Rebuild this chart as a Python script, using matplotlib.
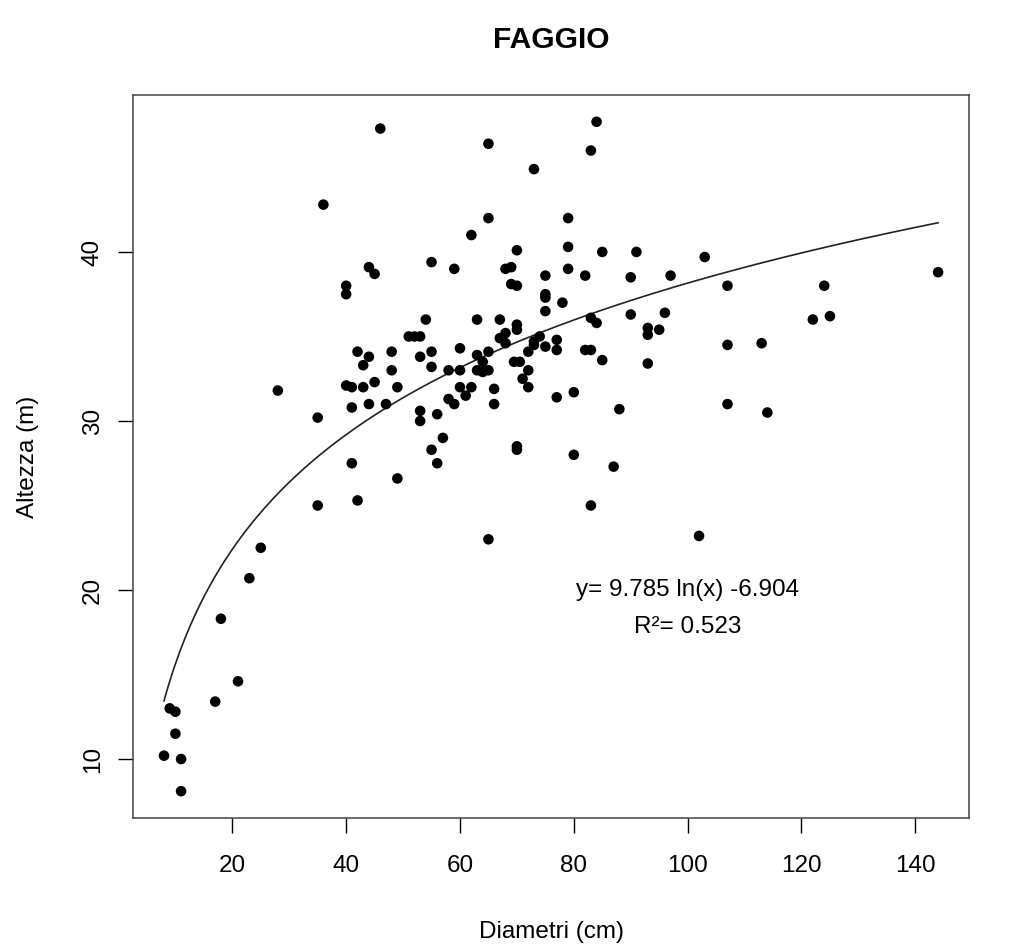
import numpy as np
import matplotlib
matplotlib.use("Agg")
import matplotlib.pyplot as plt

plt.rcParams['font.family'] = ['Liberation Sans', 'DejaVu Sans']

# diameter (cm) and height (m) of the sampled beech trees
diametri = [8, 9, 10, 10, 11, 11, 17, 18, 21, 23, 25, 28, 35, 35, 36,
            40, 40, 40, 41, 41, 41, 42, 42, 43, 43, 44, 44, 44, 45, 45,
            46, 47, 48, 48, 49, 49, 51, 52, 53, 53, 53, 53, 54, 55, 55,
            55, 55, 56, 56, 57, 58, 58, 59, 59, 60, 60, 60, 61, 62, 62,
            63, 63, 63, 64, 64, 65, 65, 65, 65, 65, 66, 66, 67, 67, 68,
            68, 68, 69, 69, 69.5, 70, 70, 70, 70, 70.5, 70, 70, 71, 72, 72,
            72, 73, 73, 73, 74, 75, 75, 75, 75, 75, 77, 77, 77, 78, 79,
            79, 79, 80, 80, 82, 82, 83, 83, 83, 83, 84, 84, 85, 85, 87,
            88, 90, 90, 91, 93, 93, 93, 95, 96, 97, 102, 103, 107, 107, 107,
            113, 114, 122, 124, 125, 144]
altezze = [10.2, 13.0, 12.8, 11.5, 10.0, 8.1, 13.4, 18.3, 14.6, 20.7, 22.5, 31.8, 25.0, 30.2, 42.8,
           38.0, 37.5, 32.1, 32.0, 30.8, 27.5, 34.1, 25.3, 33.3, 32.0, 39.1, 33.8, 31.0, 38.7, 32.3,
           47.3, 31.0, 34.1, 33.0, 32.0, 26.6, 35.0, 35.0, 35.0, 33.8, 30.6, 30.0, 36.0, 39.4, 34.1,
           33.2, 28.3, 30.4, 27.5, 29.0, 33.0, 31.3, 39.0, 31.0, 34.3, 33.0, 32.0, 31.5, 41.0, 32.0,
           36.0, 33.9, 33.0, 33.5, 32.9, 46.4, 42.0, 34.1, 33.0, 23.0, 31.9, 31.0, 36.0, 34.9, 39.0,
           35.2, 34.6, 39.1, 38.1, 33.5, 40.1, 38.0, 35.7, 35.4, 33.5, 28.5, 28.3, 32.5, 34.1, 33.0,
           32.0, 44.9, 34.7, 34.5, 35.0, 38.6, 37.5, 37.3, 36.5, 34.4, 34.8, 34.2, 31.4, 37.0, 42.0,
           40.3, 39.0, 31.7, 28.0, 38.6, 34.2, 46.0, 36.1, 34.2, 25.0, 47.7, 35.8, 40.0, 33.6, 27.3,
           30.7, 38.5, 36.3, 40.0, 35.5, 35.1, 33.4, 35.4, 36.4, 38.6, 23.2, 39.7, 38.0, 34.5, 31.0,
           34.6, 30.5, 36.0, 38.0, 36.2, 38.8]

# logarithmic fit coefficients
coef_a = 9.785
coef_b = -6.904
r2 = 0.523

x_ticks = [20, 40, 60, 80, 100, 120, 140]
y_ticks = [10, 20, 30, 40]

fig = plt.figure(figsize=(10.11, 9.51), dpi=100)
ax = fig.add_axes([0.1316, 0.1399, 0.8269, 0.7602])

ax.scatter(diametri, altezze, s=58, color='black', edgecolors='none', zorder=3)

xs = np.linspace(min(diametri), max(diametri), 300)
ax.plot(xs, coef_a * np.log(xs) + coef_b, color='#222222', lw=1.2)

ax.text(100, 20.0, f"y= {coef_a} ln(x) {coef_b}", fontsize=17.5, ha='center', va='center')
ax.text(100, 17.8, f"R²= {r2}", fontsize=17.5, ha='center', va='center')

# R-style 4% padding around the data range
xr = max(diametri) - min(diametri)
yr = max(altezze) - min(altezze)
ax.set_xlim(min(diametri) - 0.04 * xr, max(diametri) + 0.04 * xr)
ax.set_ylim(min(altezze) - 0.04 * yr, max(altezze) + 0.04 * yr)

ax.set_xticks(x_ticks)
ax.set_yticks(y_ticks)
ax.tick_params(direction='out', length=11, width=1.0, labelsize=17.5)
ax.tick_params(axis='x', pad=16)
ax.tick_params(axis='y', pad=10)
plt.setp(ax.get_yticklabels(), rotation=90, va='center')

for sp in ax.spines.values():
    sp.set_color('#444444')
    sp.set_linewidth(1.1)

ax.set_xlabel("Diametri (cm)", fontsize=17.5)
ax.set_ylabel("Altezza (m)", fontsize=17.5)
ax.xaxis.set_label_coords(0.5, -0.142)
ax.yaxis.set_label_coords(-0.112, 0.5)
ax.set_title("FAGGIO", fontsize=21.5, fontweight='bold', pad=34)

fig.savefig("out.png", dpi=100, facecolor='white')
